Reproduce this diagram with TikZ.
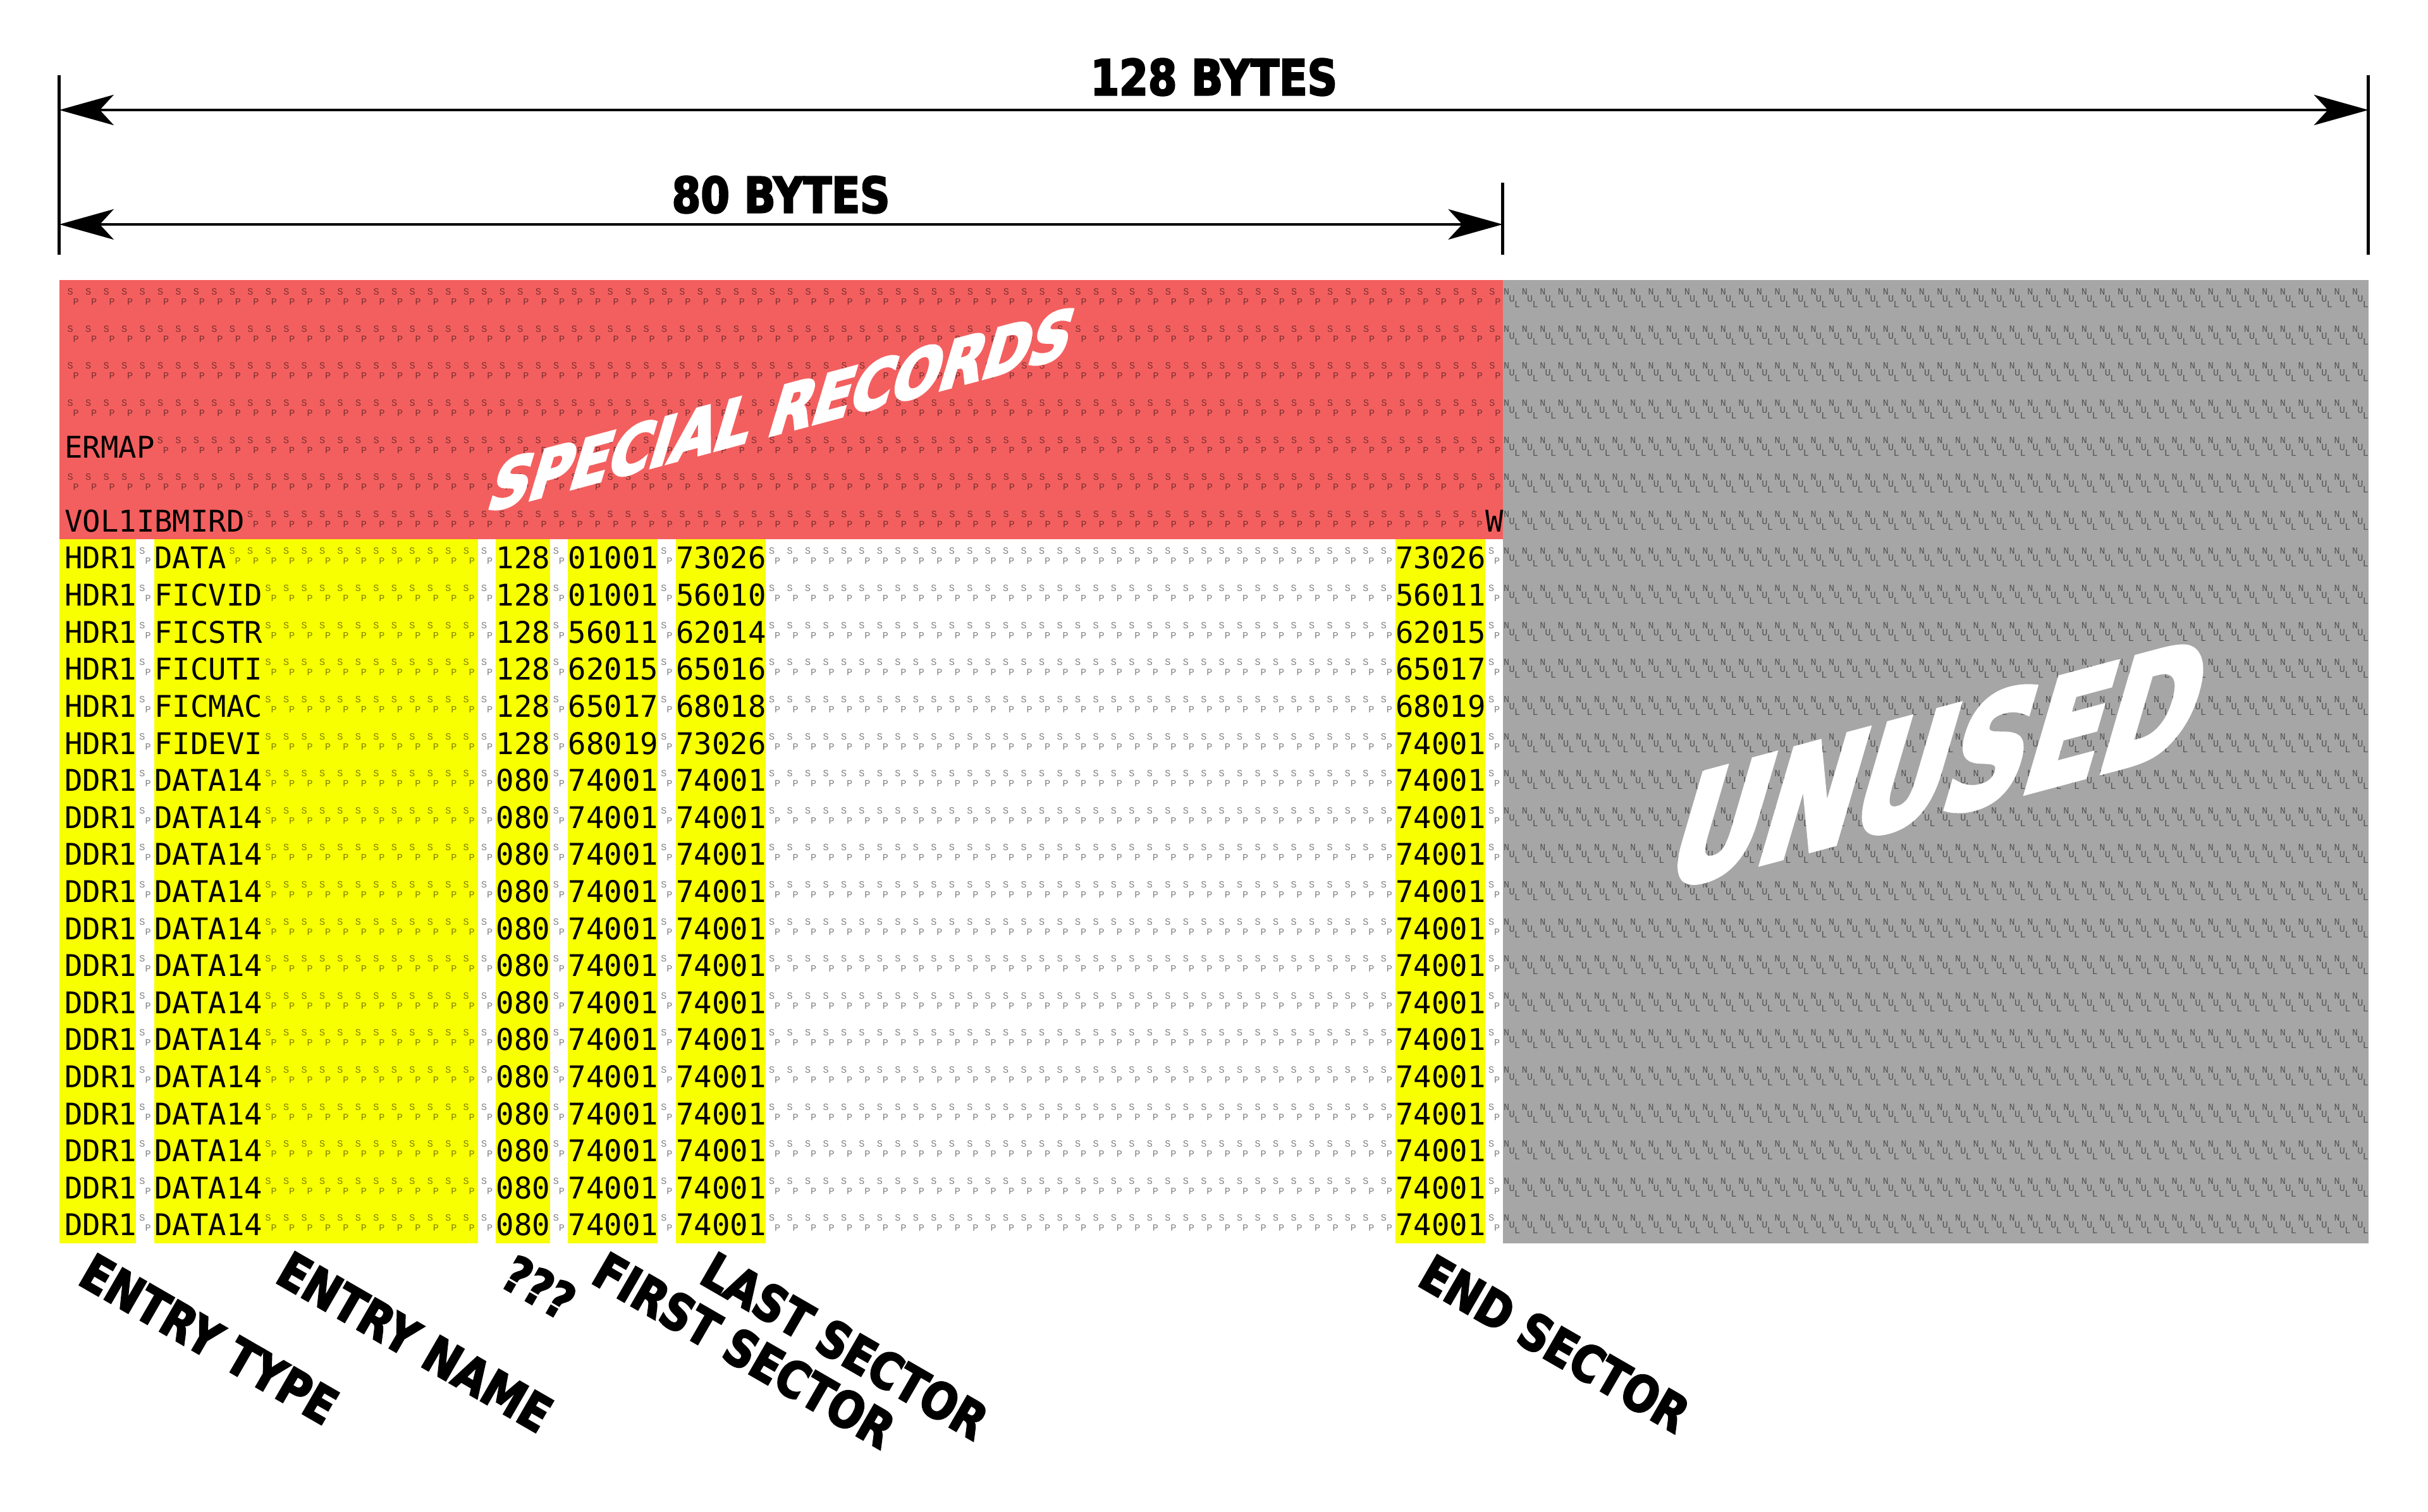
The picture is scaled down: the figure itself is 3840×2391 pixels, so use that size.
\documentclass[tikz,border=0pt]{standalone}
\usepackage{fontspec}
\usepackage{tikz}
\usetikzlibrary{arrows.meta}

\newfontfamily\monofont{DejaVu Sans Mono}
\newfontfamily\glyphfont{Liberation Mono}
\newfontfamily\labelfont{DejaVu Sans}[FakeStretch=0.84, FakeBold=3]
\newfontfamily\heavyfont{DejaVu Sans}[FakeStretch=0.84, FakeBold=4]

\definecolor{recred}{RGB}{243,95,95}
\definecolor{nulgray}{RGB}{166,166,166}
\definecolor{fieldyel}{RGB}{248,255,0}

\newlength\cellw \setlength\cellw{0.28447cm}
\newlength\nulw \setlength\nulw{0.28535cm}
%repeat #2, #1 times
\newcommand\rep[2]{\ifnum#1>0 #2\expandafter\rep\expandafter{\number\numexpr#1-1\relax}{#2}\fi}
%space and null control pictures
\newcommand\spcell{\makebox[\cellw][l]{\rlap{\kern0.045cm\raisebox{0.23cm}{S}}\rlap{\kern0.135cm\raisebox{0.07cm}{P}}}}
\newcommand\nulcell{\makebox[\nulw][l]{\rlap{\kern0.002cm\raisebox{0.23cm}{N}}\rlap{\kern0.085cm\raisebox{0.12cm}{U}}\rlap{\kern0.17cm\raisebox{0.03cm}{L}}}}

\tikzset{
	mono/.style={font=\monofont\fontsize{13.44}{16}\selectfont, inner sep=0pt, anchor=base west},
	glyphs/.style={font=\glyphfont\fontsize{4.3}{5}\selectfont, inner sep=0pt, anchor=base west, text opacity=0.5},
	bytetag/.style={font=\labelfont\bfseries\fontsize{22.2}{26}\selectfont, inner sep=0pt},
	coltag/.style={font=\labelfont\bfseries\fontsize{22.5}{27}\selectfont, inner sep=0pt, rotate=-30, anchor=north west},
	bigtag/.style={text=white, inner sep=0pt},
	dimline/.style={line width=1.34pt},
	dimarrow/.style={line width=1.15pt, {Stealth[length=0.86cm,width=0.48cm,inset=0.22cm]}-{Stealth[length=0.86cm,width=0.48cm,inset=0.22cm]}}
}

%one directory entry: row, type, name, name length, size, first, last, end
\newcommand\dirrow[8]{
	\node[mono] (typ#1) at ({cx(0)},{by(#1)}) {#2};
	\node[glyphs] (gapa#1) at ({cx(4)},{by(#1)}) {\spcell};
	\node[mono] (nam#1) at ({cx(5)},{by(#1)}) {#3};
	\node[glyphs] (pad#1) at ({cx(5+#4)},{by(#1)}) {\rep{\numexpr19-#4\relax}{\spcell}};
	\node[mono] (siz#1) at ({cx(24)},{by(#1)}) {#5};
	\node[glyphs] (gapb#1) at ({cx(27)},{by(#1)}) {\spcell};
	\node[mono] (fst#1) at ({cx(28)},{by(#1)}) {#6};
	\node[glyphs] (gapc#1) at ({cx(33)},{by(#1)}) {\spcell};
	\node[mono] (lst#1) at ({cx(34)},{by(#1)}) {#7};
	\node[glyphs] (gapd#1) at ({cx(39)},{by(#1)}) {\rep{35}{\spcell}};
	\node[mono] (eds#1) at ({cx(74)},{by(#1)}) {#8};
	\node[glyphs] (gape#1) at ({cx(79)},{by(#1)}) {\spcell};
}

\begin{document}
\begin{tikzpicture}[x=0.01cm,y=-0.01cm,
	declare function={cx(\cc)=101.5+28.447*\cc; by(\rr)=489.7+58.61*\rr; ty(\rr)=442.7+58.61*\rr;}]
	\useasboundingbox (0,0) rectangle (3840,2391);

	%backgrounds
	\fill[recred] (93.5,{ty(0)}) rectangle (2377,{ty(7)});
	\fill[nulgray] (2377,{ty(0)}) rectangle (3745.5,{ty(26)});
	\fill[fieldyel] (93.5,{ty(7)}) rectangle ({cx(4)},{ty(26)});
	\foreach \a/\b in {5/23,24/27,28/33,34/39,74/79}
		\fill[fieldyel] ({cx(\a)},{ty(7)}) rectangle ({cx(\b)},{ty(26)});

	%unused area
	\foreach \r in {0,...,25}
		\node[glyphs] (nul\r) at (2377.3,{by(\r)}) {\rep{48}{\nulcell}};

	%special records
	\foreach \r in {0,1,2,3,5}
		\node[glyphs] (sp\r) at ({cx(0)},{by(\r)}) {\rep{80}{\spcell}};
	\node[mono] (ermap) at ({cx(0)},{by(4)}) {ERMAP};
	\node[glyphs] (sp4) at ({cx(5)},{by(4)}) {\rep{75}{\spcell}};
	\node[mono] (vol) at ({cx(0)},{by(6)}) {VOL1IBMIRD};
	\node[glyphs] (sp6) at ({cx(10)},{by(6)}) {\rep{69}{\spcell}};
	\node[mono] (wflag) at ({cx(79)},{by(6)}) {W};

	%directory entries
	\dirrow{7}{HDR1}{DATA}{4}{128}{01001}{73026}{73026}
	\dirrow{8}{HDR1}{FICVID}{6}{128}{01001}{56010}{56011}
	\dirrow{9}{HDR1}{FICSTR}{6}{128}{56011}{62014}{62015}
	\dirrow{10}{HDR1}{FICUTI}{6}{128}{62015}{65016}{65017}
	\dirrow{11}{HDR1}{FICMAC}{6}{128}{65017}{68018}{68019}
	\dirrow{12}{HDR1}{FIDEVI}{6}{128}{68019}{73026}{74001}
	\foreach \r in {13,...,25}{
		\dirrow{\r}{DDR1}{DATA14}{6}{080}{74001}{74001}{74001}
	}

	%big captions
	\node[bigtag, font=\heavyfont\bfseries\fontsize{30}{34}\selectfont, cm={1.0,0.268,0.31,1.04,(0,0)}] (special) at (1237.5,647.4) {SPECIAL RECORDS};
	\node[bigtag, font=\heavyfont\bfseries\fontsize{66.5}{74}\selectfont, cm={0.9,0.241,0.31,1.06,(0,0)}] (unused) at (3068,1206.7) {UNUSED};

	%dimension lines
	\coordinate (lt) at (93.8,119);		\coordinate (lb) at (93.8,403);
	\coordinate (rt) at (3745.7,119);	\coordinate (rb) at (3745.7,403);
	\coordinate (mt) at (2376.5,289);	\coordinate (mb) at (2376.5,403);
	\draw[dimline] (lt)--(lb);
	\draw[dimline] (rt)--(rb);
	\draw[dimline] (mt)--(mb);
	\coordinate (a128l) at (93.8,174);	\coordinate (a128r) at (3745.7,174);
	\coordinate (a80l) at (93.8,355);	\coordinate (a80r) at (2376.5,355);
	\draw[dimarrow] (a128l)--(a128r);
	\draw[dimarrow] (a80l)--(a80r);
		\node[bytetag] (lab128) at (1919.7,122) {128 BYTES};
		\node[bytetag] (lab80) at (1235,308) {80 BYTES};

	%column captions
	\node[coltag] (ctype) at (149,1979) {ENTRY TYPE};
	\node[coltag] (cname) at (461,1976) {ENTRY NAME};
	\node[coltag] (csize) at (817,1981) {???};
	\node[coltag] (cfirst) at (961,1976) {FIRST SECTOR};
	\node[coltag] (clast) at (1132,1976) {LAST SECTOR};
	\node[coltag] (cend) at (2268,1980) {END SECTOR};
\end{tikzpicture}
\end{document}
